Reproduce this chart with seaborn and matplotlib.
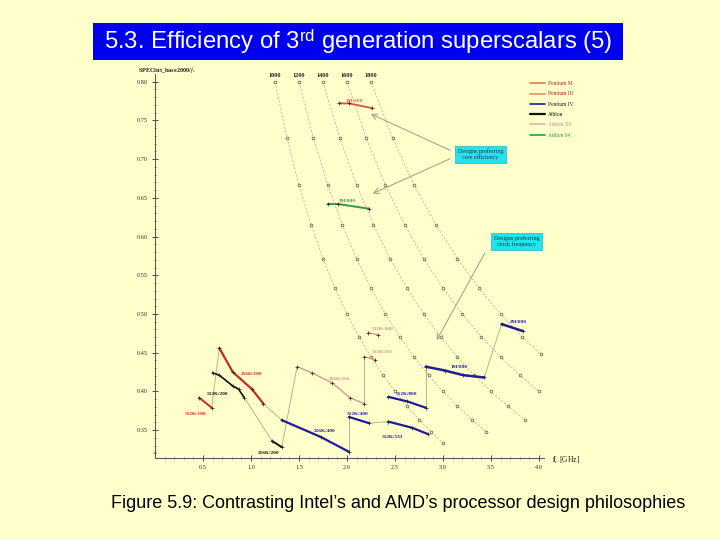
import matplotlib.pyplot as plt
import seaborn as sns
from matplotlib.lines import Line2D
from matplotlib.patches import Rectangle

# iso-performance curves: SPECint_base2000 level and marker frequencies [GHz]
iso_levels = [1000, 1200, 1400, 1600, 1800]
iso_freqs = [
    [1.25, 1.375, 1.5, 1.625, 1.75, 1.875, 2.0, 2.125, 2.25, 2.375, 2.5, 2.625, 2.75, 2.875, 3.0],
    [1.5, 1.65, 1.8, 1.95, 2.1, 2.25, 2.4, 2.55, 2.7, 2.85, 3.0, 3.15, 3.3, 3.45],
    [1.75, 1.925, 2.1, 2.275, 2.45, 2.625, 2.8, 2.975, 3.15, 3.325, 3.5, 3.675, 3.85],
    [2.0, 2.2, 2.4, 2.6, 2.8, 3.0, 3.2, 3.4, 3.6, 3.8, 4.0],
    [2.25, 2.475, 2.7, 2.925, 3.15, 3.375, 3.6, 3.825, 4.02],
]

# processor families: frequency [GHz] and SPECint_base2000/fc
p3_512_f = [0.46, 0.59]
p3_512_v = [0.392, 0.379]
p3_256_f = [0.67, 0.81, 1.01, 1.13]
p3_256_v = [0.456, 0.425, 0.403, 0.384]
k7_512_f = [0.60, 0.67, 0.81, 0.87, 0.93]
k7_512_v = [0.424, 0.421, 0.407, 0.403, 0.392]
k7_256_f = [1.22, 1.32]
k7_256_v = [0.336, 0.328]
xp_256_f = [1.48, 1.635, 1.845, 2.03, 2.18]
xp_256_v = [0.432, 0.424, 0.411, 0.392, 0.384]
xp_333_f = [2.18, 2.29]
xp_333_v = [0.445, 0.441]
xp_400_f = [2.22, 2.32]
xp_400_v = [0.476, 0.473]
p4_w_f = [1.32, 1.73, 2.02]
p4_w_v = [0.363, 0.341, 0.322]
p4_n400_f = [2.02, 2.23]
p4_n400_v = [0.367, 0.359]
p4_n533_f = [2.43, 2.68, 2.84]
p4_n533_v = [0.361, 0.353, 0.345]
p4_n800_f = [2.43, 2.63, 2.82]
p4_n800_v = [0.393, 0.387, 0.379]
p4_1m_f = [2.82, 3.02, 3.21, 3.43]
p4_1m_v = [0.432, 0.427, 0.421, 0.418]
p4_2m_f = [3.61, 3.83]
p4_2m_v = [0.487, 0.478]
pm_f = [1.92, 2.02, 2.26]
pm_v = [0.772, 0.772, 0.766]
a64_f = [1.80, 1.91, 2.23]
a64_v = [0.642, 0.642, 0.636]

families = ['Pentium M', 'Pentium III', 'Pentium IV', 'Athlon', 'Athlon XP', 'Athlon 64']
colors = {'Pentium M': '#d8603a', 'Pentium III': '#c82a1e', 'Pentium IV': '#1c1c9c',
          'Athlon': '#111111', 'Athlon XP': '#d88c8c', 'Athlon 64': '#2e9a4a'}
legend_colors = ['#d8804a', '#e89060', '#1c1c9c', '#111111', '#e0b0a8', '#2e9a4a']

# (family, label, f, v, label_f, label_v, line width)
segments = [
    ('Pentium III', '512K/100', p3_512_f, p3_512_v, 0.42, 0.371, 1.4),
    ('Pentium III', '256K/100', p3_256_f, p3_256_v, 1.01, 0.423, 1.6),
    ('Athlon', '512K/200', k7_512_f, k7_512_v, 0.65, 0.397, 1.2),
    ('Athlon', '256K/200', k7_256_f, k7_256_v, 1.18, 0.321, 1.4),
    ('Athlon XP', '256K/266', xp_256_f, xp_256_v, 1.92, 0.416, 0.9),
    ('Athlon XP', '512K/333', xp_333_f, xp_333_v, 2.37, 0.451, 0.9),
    ('Athlon XP', '512K/400', xp_400_f, xp_400_v, 2.37, 0.480, 0.9),
    ('Pentium IV', '256K/400', p4_w_f, p4_w_v, 1.77, 0.349, 1.6),
    ('Pentium IV', '512K/400', p4_n400_f, p4_n400_v, 2.11, 0.371, 1.6),
    ('Pentium IV', '512K/533', p4_n533_f, p4_n533_v, 2.47, 0.341, 1.6),
    ('Pentium IV', '512K/800', p4_n800_f, p4_n800_v, 2.62, 0.397, 1.6),
    ('Pentium IV', '1M/800', p4_1m_f, p4_1m_v, 3.17, 0.432, 1.8),
    ('Pentium IV', '2M/800', p4_2m_f, p4_2m_v, 3.78, 0.490, 1.8),
    ('Pentium M', '1M/400', pm_f, pm_v, 2.08, 0.775, 1.4),
    ('Athlon 64', '1M/800', a64_f, a64_v, 2.00, 0.646, 1.4),
]

# generation steps (end of one design -> start of the next)
intel_path = [(p3_512_f, p3_512_v, p3_256_f, p3_256_v), (p3_256_f, p3_256_v, p4_w_f, p4_w_v),
              (p4_w_f, p4_w_v, p4_n400_f, p4_n400_v), (p4_n400_f, p4_n400_v, p4_n533_f, p4_n533_v),
              (p4_n800_f, p4_n800_v, p4_1m_f, p4_1m_v), (p4_1m_f, p4_1m_v, p4_2m_f, p4_2m_v)]
amd_path = [(k7_512_f, k7_512_v, k7_256_f, k7_256_v), (k7_256_f, k7_256_v, xp_256_f, xp_256_v),
            (xp_256_f, xp_256_v, xp_333_f, xp_333_v)]

bg = '#ffffcc'
sns.set_style('ticks')
plt.rcParams['font.family'] = ['Liberation Serif', 'DejaVu Serif']
plt.rcParams['mathtext.fontset'] = 'custom'
plt.rcParams['mathtext.rm'] = 'Liberation Sans'
plt.rcParams['mathtext.it'] = 'Liberation Serif:italic'
plt.rcParams['mathtext.bf'] = 'Liberation Serif:bold'

fig = plt.figure(figsize=(7.2, 5.4), dpi=100)
fig.patch.set_facecolor(bg)
ax = fig.add_axes([155 / 720, 82 / 540, 389 / 720, 384 / 540])
ax.set_facecolor(bg)

# iso-performance curves
for level, fr in zip(iso_levels, iso_freqs):
    eff = [level / (1000 * f) for f in fr]
    sns.lineplot(x=fr, y=eff, ax=ax, color='#b4b298', lw=0.55, sort=False, estimator=None,
                 dashes=False, linestyle=(0, (3, 2)))
    sns.scatterplot(x=fr, y=eff, ax=ax, marker='o', s=4, facecolor=bg, edgecolor='#55553f',
                    linewidth=0.5, zorder=3)
    ax.text(fr[0], 0.8045, str(level), ha='center', va='bottom', fontsize=4.5,
            fontweight='bold', color='#222222')

# thin generation links
for f1, v1, f2, v2 in intel_path + amd_path:
    sns.lineplot(x=[f1[-1], f2[0]], y=[v1[-1], v2[0]], ax=ax, color='#b0b08a', lw=0.65,
                 sort=False, estimator=None)

for fam, lab, f, v, lf, lv, lw in segments:
    c = colors[fam]
    sns.lineplot(x=f, y=v, ax=ax, color=c, lw=lw, sort=False, estimator=None,
                 marker='+', markersize=3, markeredgecolor='#222222', markeredgewidth=0.5, zorder=4)
    ax.text(lf, lv, lab, ha='center', va='center', fontsize=3.8, fontweight='bold', color=c)

# annotation boxes
box = dict(boxstyle='square,pad=0.45', fc='#22e4f0', ec='#40b8c0', lw=0.6)
ax.text(3.39, 0.706, 'Designs preferring\ncore efficiency', ha='center', va='center',
        fontsize=4.3, color='#203040', bbox=box, linespacing=1.1, zorder=6)
ax.text(3.77, 0.594, 'Designs preferring\nclock frequency', ha='center', va='center',
        fontsize=4.3, color='#203040', bbox=box, linespacing=1.1, zorder=6, clip_on=False)
arrow = dict(arrowstyle='->', color='#a8a88a', lw=0.8, mutation_scale=10)
ax.annotate('', xy=(2.22, 0.760), xytext=(3.10, 0.710), arrowprops=arrow)
ax.annotate('', xy=(2.24, 0.654), xytext=(3.10, 0.702), arrowprops=arrow)
ax.annotate('', xy=(2.92, 0.463), xytext=(3.45, 0.582), arrowprops=arrow)

# axes
ax.set_xlim(0, 4.052)
ax.set_ylim(0.314, 0.810)
ax.set_xticks([0.5, 1.0, 1.5, 2.0, 2.5, 3.0, 3.5, 4.0])
ax.set_xticks([i / 10 for i in range(1, 41)], minor=True)
ax.set_yticks([0.35, 0.40, 0.45, 0.50, 0.55, 0.60, 0.65, 0.70, 0.75, 0.80])
ax.set_yticks([i / 100 for i in range(32, 81)], minor=True)
ax.set_xticklabels(['0.5', '1.0', '1.5', '2.0', '2.5', '3.0', '3.5', '4.0'])
ax.set_yticklabels(['0.35', '0.40', '0.45', '0.50', '0.55', '0.60', '0.65', '0.70', '0.75', '0.80'])
ax.tick_params(which='major', direction='inout', length=4, width=0.6, labelsize=4.5,
               colors='#333328', pad=3)
ax.tick_params(which='minor', direction='inout', length=2, width=0.5, colors='#555548')
for s in ['top', 'right']:
    ax.spines[s].set_visible(False)
for s in ['left', 'bottom']:
    ax.spines[s].set_color('#555548')
    ax.spines[s].set_linewidth(0.7)
ax.set_xlabel('')
ax.set_ylabel('')
ax.text(0, 0.3207, '=', ha='center', va='center', fontsize=5, color='#333328', clip_on=False)
fig.text(138 / 720, 1 - 70 / 540, 'SPECint_base2000/$f_c$', fontsize=4.5, fontweight='bold',
         ha='left', va='center', color='#222222')
fig.text(552 / 720, 1 - 460 / 540, r'$\mathbf{f}_c$ [GHz]', fontsize=5.5, ha='left',
         va='center', color='#222222')

handles = [Line2D([0], [0], color=c, lw=1.2 if i != 3 else 1.6) for i, c in enumerate(legend_colors)]
leg = ax.legend(handles, families, loc='upper left', bbox_to_anchor=(528 / 720, 1 - 79 / 540),
                bbox_transform=fig.transFigure, frameon=False, fontsize=4, handlelength=2.6,
                labelspacing=0.95, handletextpad=0.6, borderaxespad=0)
for t, c in zip(leg.get_texts(), ['#b03020', '#b02010', '#222222', '#111111', '#c09090', '#2e9a4a']):
    t.set_color(c)

# slide title and caption
fig.add_artist(Rectangle((93 / 720, 480 / 540), 530 / 720, 37 / 540, transform=fig.transFigure,
                         fc='#0000ee', ec='none'))
fig.text(358 / 720, 1 - 42 / 540, r'5.3. Efficiency of 3$^{\mathrm{rd}}$ generation superscalars (5)',
         fontsize=17.2, color='white', ha='center', va='center', family=['Liberation Sans'])
fig.text(398 / 720, 1 - 503 / 540,
         'Figure 5.9: Contrasting Intel\u2019s and AMD\u2019s processor design philosophies',
         fontsize=13, color='black', ha='center', va='center', family=['Liberation Sans'])

fig.savefig('out.png', dpi=100, facecolor=bg)
